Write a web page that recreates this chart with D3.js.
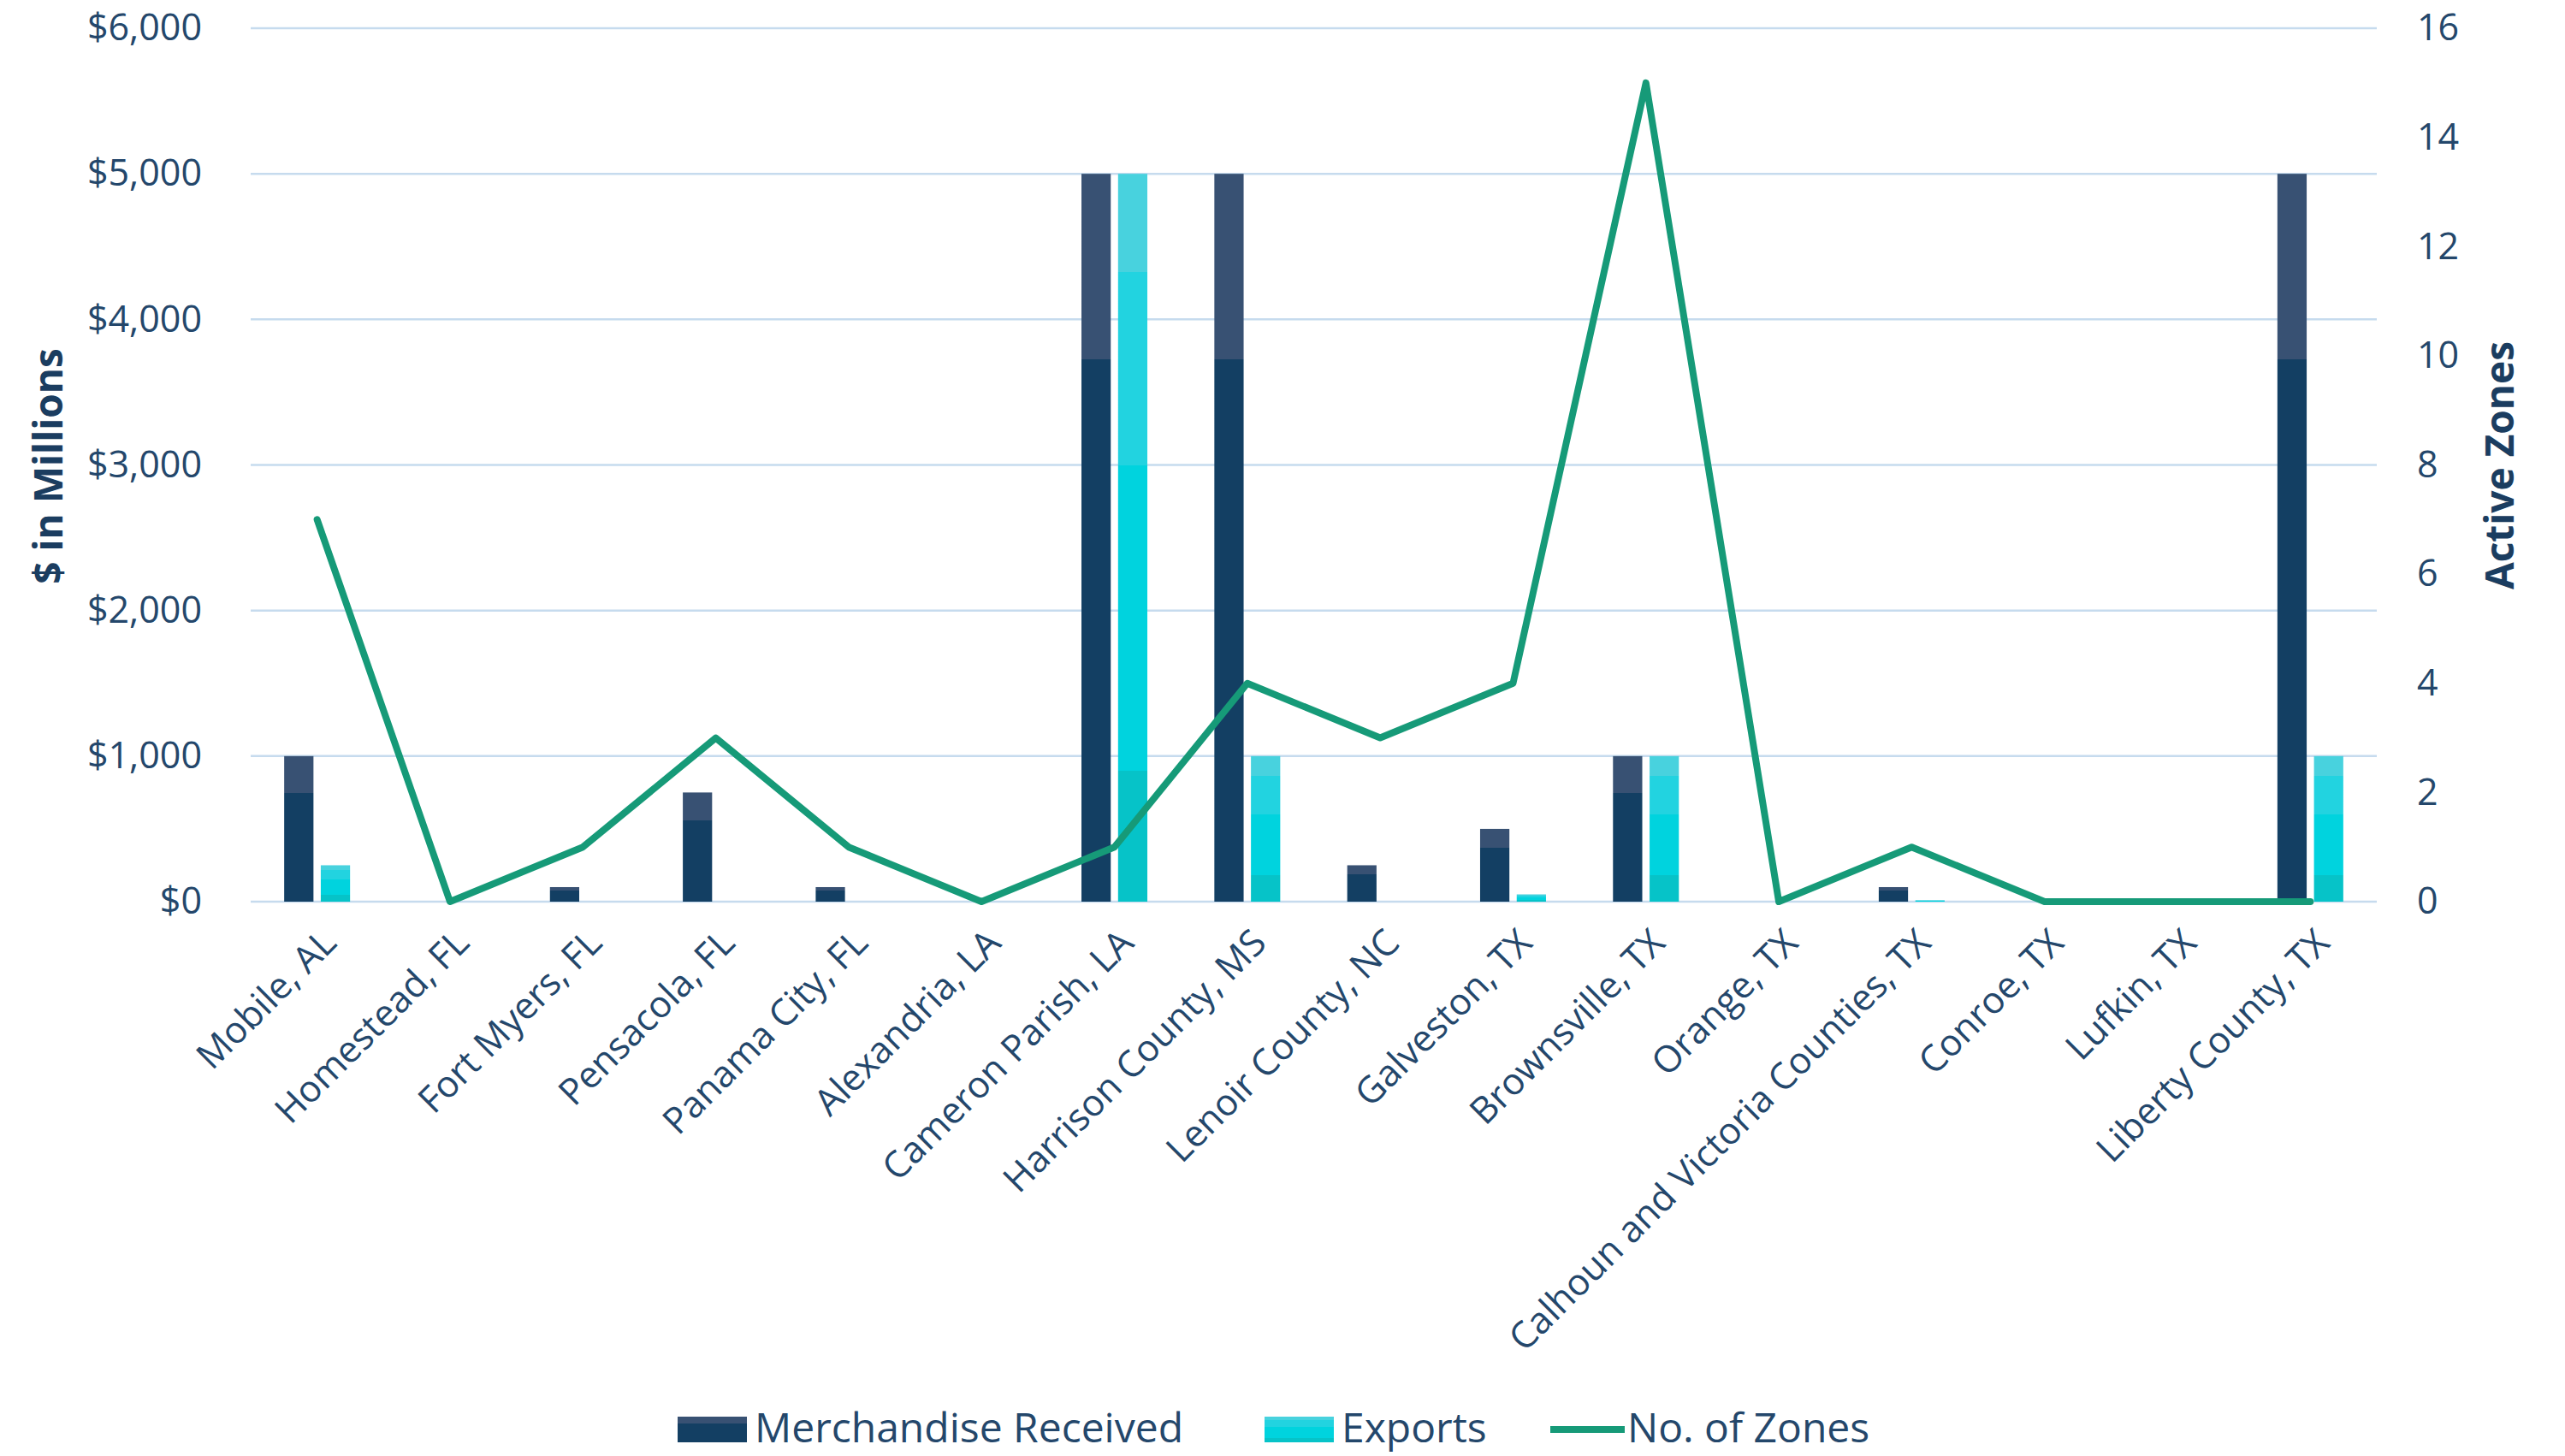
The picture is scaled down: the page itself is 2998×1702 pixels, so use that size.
<!DOCTYPE html>
<html>
<head>
<meta charset="utf-8">
<script src="https://cdn.jsdelivr.net/npm/d3@7"></script>
<style>
  html, body { margin: 0; padding: 0; background: #fff; }
  svg text { font-family: "Open Sans", "Noto Sans", sans-serif; }
</style>
</head>
<body>
<div id="chart"></div>
<script>
// categories and series
var zones = ["Mobile, AL", "Homestead, FL", "Fort Myers, FL", "Pensacola, FL", "Panama City, FL",
    "Alexandria, LA", "Cameron Parish, LA", "Harrison County, MS", "Lenoir County, NC", "Galveston, TX",
    "Brownsville, TX", "Orange, TX", "Calhoun and Victoria Counties, TX", "Conroe, TX", "Lufkin, TX",
    "Liberty County, TX"];
var merchandise = [1000, 0, 100, 750, 100, 0, 5000, 5000, 250, 500, 1000, 0, 100, 0, 0, 5000];
var exportsVal = [250, 0, 0, 0, 0, 0, 5000, 1000, 0, 50, 1000, 0, 10, 0, 0, 1000];
var zoneCount = [7, 0, 1, 3, 1, 0, 1, 4, 3, 4, 15, 0, 1, 0, 0, 0];
var leftTicks = [0, 1000, 2000, 3000, 4000, 5000, 6000];
var rightTicks = [0, 2, 4, 6, 8, 10, 12, 14, 16];

var W = 2998, H = 1702;
var margin = { top: 33, right: 220, bottom: 648, left: 293 };
var width = W - margin.left - margin.right,
    height = H - margin.top - margin.bottom;

var textColor = "#24476b";

var svg = d3.select("#chart").append("svg")
    .attr("width", W)
    .attr("height", H);

// banded fills, like the source's gradient bars
var defs = svg.append("defs");
function bandGradient(id, stops) {
    var g = defs.append("linearGradient")
        .attr("id", id)
        .attr("x1", 0).attr("y1", 1).attr("x2", 0).attr("y2", 0);
    stops.forEach(function (s) {
        g.append("stop").attr("offset", s[0]).attr("stop-color", s[1]);
    });
}
bandGradient("gradMerch", [[0, "#133f63"], [0.745, "#133f63"], [0.745, "#385173"], [1, "#385173"]]);
bandGradient("gradExports", [[0, "#06c3c8"], [0.18, "#06c3c8"], [0.18, "#00d3de"], [0.6, "#00d3de"],
    [0.6, "#22d3e0"], [0.865, "#22d3e0"], [0.865, "#48d2de"], [1, "#48d2de"]]);

var g = svg.append("g")
    .attr("transform", "translate(" + margin.left + "," + margin.top + ")");

var x = d3.scaleBand()
    .domain(zones)
    .range([0, width]);

var bw = x.bandwidth();
var xs = d3.scaleBand()
    .domain(["merch", "exports"])
    .range([bw / 2 - 38.5, bw / 2 + 38.5])
    .paddingInner(0.2);

var y = d3.scaleLinear()
    .domain([0, 6000])
    .range([height, 0]);

var y2 = d3.scaleLinear()
    .domain([0, 16])
    .range([height, 0]);

// gridlines
g.append("g")
    .attr("class", "grid")
    .selectAll("line")
    .data(leftTicks)
    .enter().append("line")
    .attr("x1", 0)
    .attr("x2", width)
    .attr("y1", function (d) { return y(d); })
    .attr("y2", function (d) { return y(d); })
    .attr("stroke", "#c6dbee")
    .attr("stroke-width", 2.5);

// left axis
var yAxis = g.append("g")
    .attr("class", "y axis")
    .call(d3.axisLeft(y)
        .tickValues(leftTicks)
        .tickSize(0)
        .tickPadding(57)
        .tickFormat(function (d) { return "$" + d3.format(",")(d); }));
yAxis.select(".domain").remove();
yAxis.selectAll("text")
    .style("font-size", "43px")
    .style("font-family", "'Open Sans', sans-serif")
    .attr("fill", textColor);

// right axis
var yAxis2 = g.append("g")
    .attr("class", "y2 axis")
    .attr("transform", "translate(" + width + ",0)")
    .call(d3.axisRight(y2)
        .tickValues(rightTicks)
        .tickSize(0)
        .tickPadding(47));
yAxis2.select(".domain").remove();
yAxis2.selectAll("text")
    .style("font-size", "43px")
    .style("font-family", "'Open Sans', sans-serif")
    .attr("fill", textColor);

// bars
var groups = g.selectAll(".zone")
    .data(zones)
    .enter().append("g")
    .attr("class", "zone")
    .attr("transform", function (d) { return "translate(" + x(d) + ",0)"; });

groups.append("rect")
    .attr("class", "bar merch")
    .attr("x", xs("merch"))
    .attr("width", xs.bandwidth())
    .attr("y", function (d, i) { return y(merchandise[i]); })
    .attr("height", function (d, i) { return height - y(merchandise[i]); })
    .attr("fill", "url(#gradMerch)");

groups.append("rect")
    .attr("class", "bar exports")
    .attr("x", xs("exports"))
    .attr("width", xs.bandwidth())
    .attr("y", function (d, i) { return y(exportsVal[i]); })
    .attr("height", function (d, i) { return height - y(exportsVal[i]); })
    .attr("fill", "url(#gradExports)");

// zones line
var line = d3.line()
    .x(function (d, i) { return x(zones[i]) + bw / 2; })
    .y(function (d) { return y2(d); });

g.append("path")
    .datum(zoneCount)
    .attr("d", line)
    .attr("fill", "none")
    .attr("stroke", "#169a78")
    .attr("stroke-width", 8)
    .attr("stroke-linejoin", "round")
    .attr("stroke-linecap", "round");

// category labels
var xAxis = g.append("g")
    .attr("class", "x axis")
    .attr("transform", "translate(0," + height + ")")
    .call(d3.axisBottom(x).tickSize(0).tickPadding(0));
xAxis.select(".domain").remove();
xAxis.selectAll("text")
    .style("font-size", "43px")
    .style("font-family", "'Open Sans', sans-serif")
    .attr("fill", textColor)
    .attr("text-anchor", "end")
    .attr("dy", "0.35em")
    .attr("transform", "translate(14,40) rotate(-45)");

// axis titles
svg.append("text")
    .attr("transform", "translate(57,545) rotate(-90)")
    .attr("text-anchor", "middle")
    .attr("dy", "0.35em")
    .style("font-size", "46px")
    .style("font-weight", "bold")
    .attr("fill", "#1b3d60")
    .text("$ in Millions");

svg.append("text")
    .attr("transform", "translate(2922,544) rotate(-90)")
    .attr("text-anchor", "middle")
    .attr("dy", "0.35em")
    .style("font-size", "46px")
    .style("font-weight", "bold")
    .attr("fill", "#1b3d60")
    .text("Active Zones");

// legend
var legendItems = [
    { label: "Merchandise Received", kind: "rect", fill: "url(#gradMerch)", x: 792 },
    { label: "Exports", kind: "rect", fill: "url(#gradExports)", x: 1478 },
    { label: "No. of Zones", kind: "line", fill: "#169a78", x: 1812 }
];
var legend = svg.append("g").attr("class", "legend");
legendItems.forEach(function (item) {
    var lg = legend.append("g").attr("transform", "translate(" + item.x + ",0)");
    if (item.kind === "rect") {
        lg.append("rect")
            .attr("x", 0).attr("y", 1656)
            .attr("width", 81).attr("height", 30)
            .attr("fill", item.fill);
    } else {
        lg.append("line")
            .attr("x1", 0).attr("x2", 87)
            .attr("y1", 1671).attr("y2", 1671)
            .attr("stroke", item.fill)
            .attr("stroke-width", 8);
    }
    lg.append("text")
        .attr("x", 90)
        .attr("y", 1686)
        .style("font-size", "48px")
        .attr("fill", textColor)
        .text(item.label);
});
</script>
</body>
</html>
